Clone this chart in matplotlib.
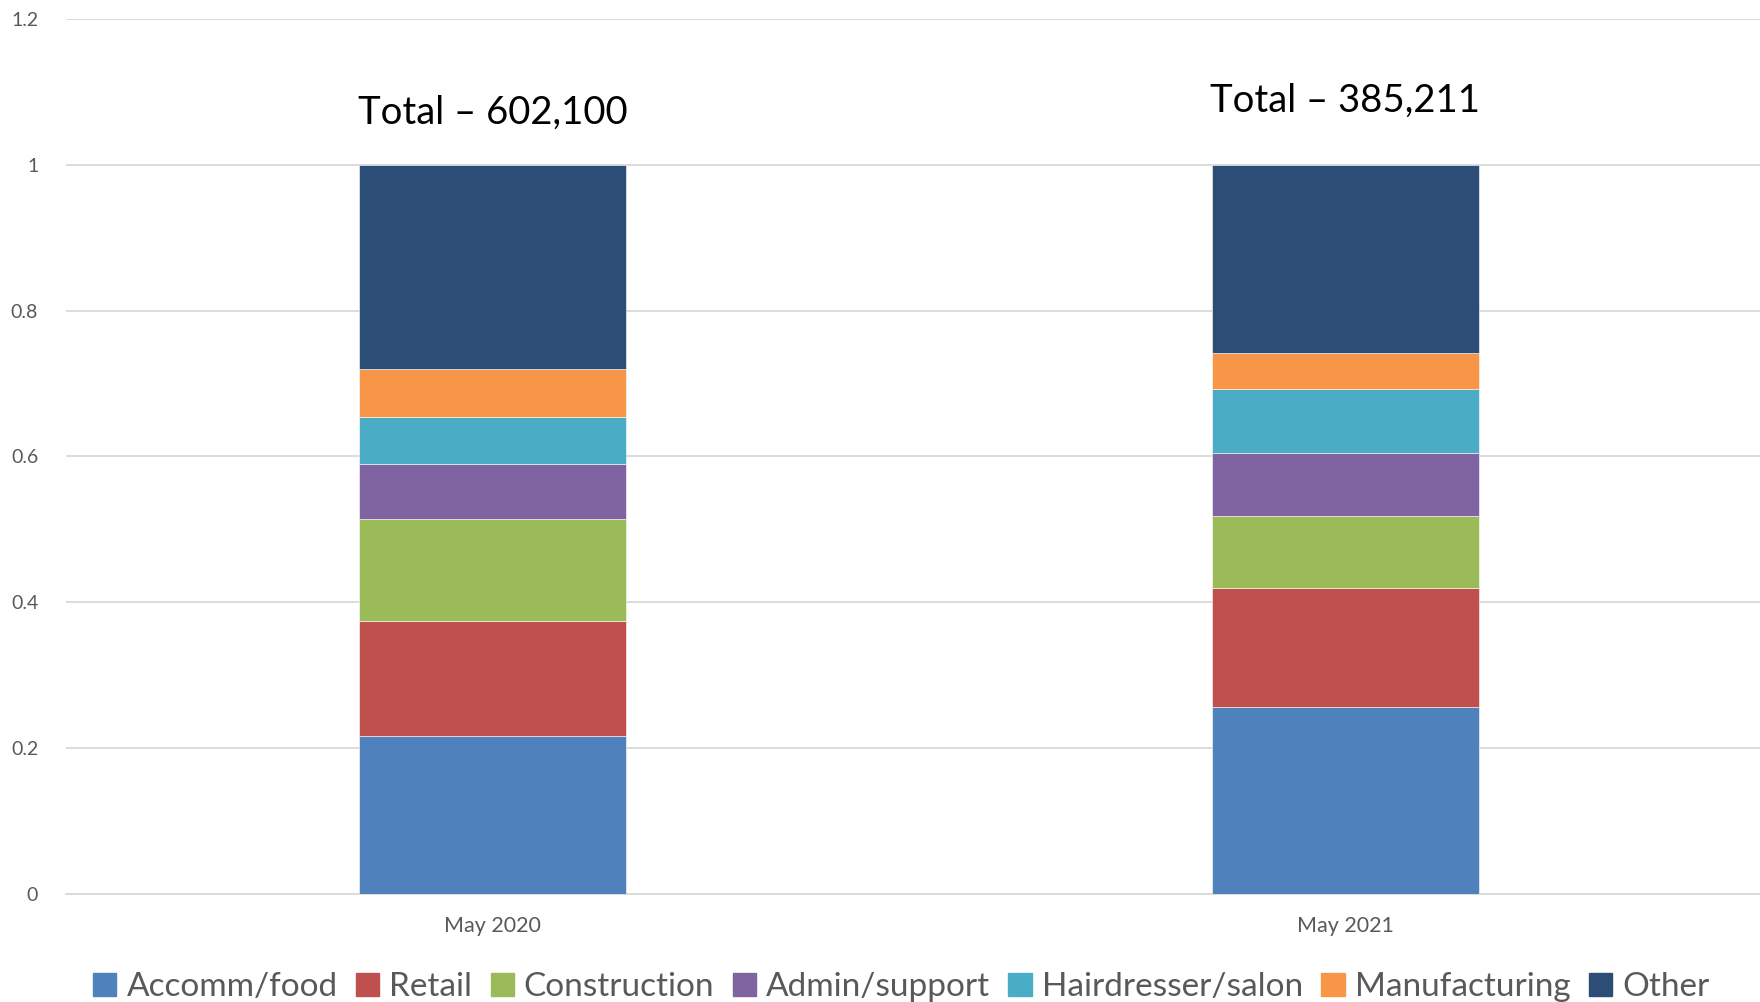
import matplotlib
matplotlib.use("Agg")
import matplotlib.pyplot as plt
import matplotlib.patches as mpatches
import numpy as np

# Share of total by sector, stacked per month
months = ["May 2020", "May 2021"]
totals = ["Total \u2013 602,100", "Total \u2013 385,211"]
sectors = ["Accomm/food", "Retail", "Construction", "Admin/support",
           "Hairdresser/salon", "Manufacturing", "Other"]
accomm_food = [0.216, 0.256]
retail = [0.158, 0.164]
construction = [0.140, 0.098]
admin_support = [0.075, 0.087]
hairdresser = [0.065, 0.087]
manufacturing = [0.066, 0.050]
other = [0.280, 0.258]

series = [accomm_food, retail, construction, admin_support,
          hairdresser, manufacturing, other]
colors = ["#4F81BD", "#C0504D", "#9BBB59", "#8064A2",
          "#4BACC6", "#F79646", "#2C4D75"]

TEXT = "#595959"
GRID = "#D9D9D9"

fig = plt.figure(figsize=(17.6, 10.02), dpi=100)
ax = fig.add_axes([0.0375, 0.108, 0.9693, 0.873])

x = np.arange(len(months))
bottom = np.zeros(len(months))
for name, vals, c in zip(sectors, series, colors):
    ax.bar(x, vals, 0.313, bottom=bottom, color=c, label=name,
           edgecolor="white", linewidth=0.4, zorder=3)
    bottom += np.array(vals)

# Total labels above each bar
label_y = [1.072, 1.088]
for xi, txt, ty in zip(x, totals, label_y):
    ax.text(xi, ty, txt, ha="center", va="center", fontsize=27.5,
            family="Lato", color="black")

ax.set_xlim(-0.5, 1.5)
ax.set_ylim(0, 1.2)
ax.set_yticks([0, 0.2, 0.4, 0.6, 0.8, 1.0, 1.2])
ax.set_yticklabels(["0", "0.2", "0.4", "0.6", "0.8", "1", "1.2"])
ax.set_xticks(x)
ax.set_xticklabels(months)

ax.grid(axis="y", color=GRID, linewidth=1.3, zorder=0)
ax.set_axisbelow(True)
for s in ["top", "right", "left"]:
    ax.spines[s].set_visible(False)
ax.spines["bottom"].set_color(GRID)
ax.spines["bottom"].set_linewidth(1.3)
ax.tick_params(axis="both", length=0, colors=TEXT)
ax.tick_params(axis="y", labelsize=14, pad=20)
ax.tick_params(axis="x", labelsize=15.5, pad=16)
for lbl in ax.get_xticklabels() + ax.get_yticklabels():
    lbl.set_family("Lato")

handles = [mpatches.Patch(color=c, label=n) for n, c in zip(sectors, colors)]
leg = fig.legend(handles=handles, loc="center", bbox_to_anchor=(0.512, 0.015),
                 ncol=7, frameon=False, handlelength=0.7,
                 handleheight=0.7, handletextpad=0.3, columnspacing=0.55,
                 prop={"family": "Lato", "size": 24})
for t in leg.get_texts():
    t.set_color(TEXT)

fig.savefig("out.png", dpi=100, facecolor="white")
